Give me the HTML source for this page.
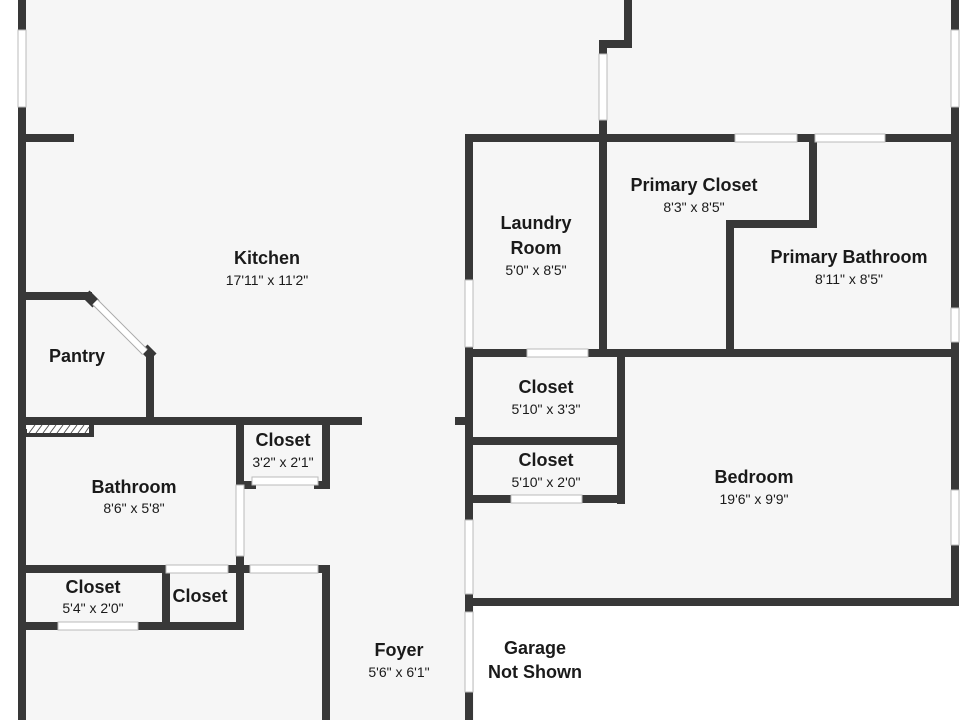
<!DOCTYPE html>
<html><head><style>body{margin:0;background:#fff}svg{display:block}
.t{font:bold 18px "Liberation Sans",sans-serif;fill:#1a1a1a;text-anchor:middle}
.d{font:14px "Liberation Sans",sans-serif;fill:#1a1a1a;text-anchor:middle}</style></head><body>
<svg width="960" height="720" viewBox="0 0 960 720">
<rect width="960" height="720" fill="#f6f6f6"/>
<rect x="0" y="0" width="18" height="720" fill="#fff"/>
<rect x="959" y="0" width="1" height="720" fill="#fff"/>
<rect x="474" y="606" width="486" height="114" fill="#fff"/>
<g stroke="#383838" stroke-width="8" fill="none" stroke-linecap="square">
<path d="M22 0V30M22 107V720"/>
<path d="M22 138H70"/>
<path d="M22 296H88M150 356V421"/>
<path d="M22 421H358"/>
<path d="M90 421V433H26"/>
<path d="M240 421V485H252M318 485H326V421"/>
<path d="M240 556V572"/>
<path d="M22 569H166M166 569V626M228 569H250M318 569H326V720"/>
<path d="M240 569V626H138M58 626H26"/>
<path d="M469 138V280M469 347V520M469 594V612M469 692V720"/>
<path d="M459 421H469"/>
<path d="M628 0V44H603V54M603 120V138"/>
<path d="M469 138H735M797 138H815M885 138H955"/>
<path d="M603 138V353"/>
<path d="M813 138V224H730V353"/>
<path d="M469 353H527M588 353H955"/>
<path d="M621 353V500"/>
<path d="M469 441H621"/>
<path d="M469 499H511M582 499H621"/>
<path d="M955 0V30M955 107V308M955 342V490M955 545V602"/>
<path d="M469 602H955"/>
</g>
<g stroke="#383838" stroke-width="10" stroke-linecap="butt"><path d="M86 294L96 304M144 348L153 357"/></g>
<path d="M95 302L145 352" stroke="#aaa" stroke-width="8"/><path d="M95 302L145 352" stroke="#fff" stroke-width="6"/>
<g fill="#fff" stroke="#bbb" stroke-width="1">
<rect x="18" y="30" width="8" height="77"/><rect x="951" y="30" width="8" height="77"/>
<rect x="951" y="308" width="8" height="34"/><rect x="951" y="490" width="8" height="55"/>
<rect x="236" y="485" width="8" height="71"/><rect x="599" y="54" width="8" height="66"/>
<rect x="465" y="280" width="8" height="67"/><rect x="465" y="520" width="8" height="74"/><rect x="465" y="612" width="8" height="80"/>
<rect x="252" y="477" width="66" height="8"/><rect x="166" y="565" width="62" height="8"/><rect x="250" y="565" width="68" height="8"/>
<rect x="58" y="622" width="80" height="8"/><rect x="735" y="134" width="62" height="8"/><rect x="815" y="134" width="70" height="8"/>
<rect x="527" y="349" width="61" height="8"/><rect x="511" y="495" width="71" height="8"/>
</g>
<rect x="27" y="425" width="62" height="8" fill="#fff"/>
<g stroke="#555" stroke-width="1"><path d="M29 433l6-8M36 433l6-8M43 433l6-8M50 433l6-8M57 433l6-8M64 433l6-8M71 433l6-8M78 433l6-8M85 433l4-6"/></g>
<text class="t" x="267" y="264">Kitchen</text><text class="d" x="267" y="285">17'11" x 11'2"</text>
<text class="t" x="77" y="362">Pantry</text>
<text class="t" x="134" y="493">Bathroom</text><text class="d" x="134" y="513">8'6" x 5'8"</text>
<text class="t" x="283" y="446">Closet</text><text class="d" x="283" y="467">3'2" x 2'1"</text>
<text class="t" x="93" y="593">Closet</text><text class="d" x="93" y="613">5'4" x 2'0"</text>
<text class="t" x="200" y="602">Closet</text>
<text class="t" x="399" y="656">Foyer</text><text class="d" x="399" y="677">5'6" x 6'1"</text>
<text class="t" x="536" y="229">Laundry</text><text class="t" x="536" y="254">Room</text><text class="d" x="536" y="275">5'0" x 8'5"</text>
<text class="t" x="694" y="191">Primary Closet</text><text class="d" x="694" y="212">8'3" x 8'5"</text>
<text class="t" x="849" y="263">Primary Bathroom</text><text class="d" x="849" y="284">8'11" x 8'5"</text>
<text class="t" x="546" y="393">Closet</text><text class="d" x="546" y="414">5'10" x 3'3"</text>
<text class="t" x="546" y="466">Closet</text><text class="d" x="546" y="487">5'10" x 2'0"</text>
<text class="t" x="754" y="483">Bedroom</text><text class="d" x="754" y="504">19'6" x 9'9"</text>
<text class="t" x="535" y="654">Garage</text><text class="t" x="535" y="678">Not Shown</text>
</svg></body></html>
